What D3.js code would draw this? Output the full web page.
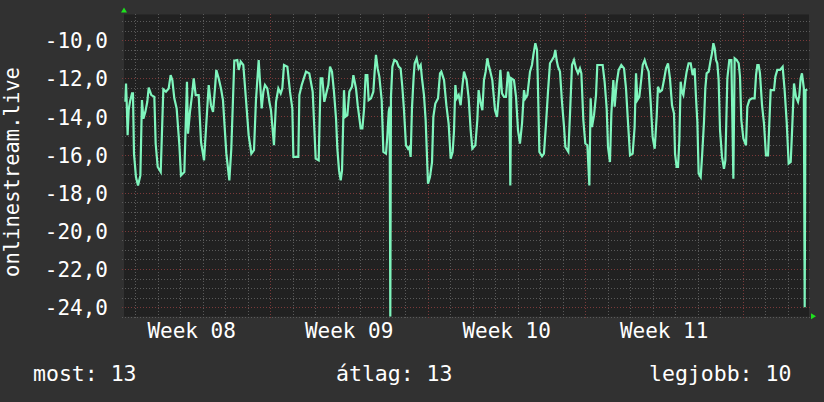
<!DOCTYPE html>
<html><head><meta charset="utf-8">
<script src="https://cdn.jsdelivr.net/npm/d3@7"></script>
<style>html,body{margin:0;padding:0;background:#313131;}svg{display:block;}</style>
</head><body>
<script>
// ---- data (hours since 2024-02-19 00:00 UTC, value) ----
const hours = [
13.3,14.0,14.7,15.7,16.8,18.2,20.4,21.4,22.5,24.6,26.8,29.3,31.0,32.5,34.6,36.7,38.2,41.0,44.2,45.6,47.8,51.0,
53.8,56.6,59.5,61.6,63.4,65.5,68.0,70.9,72.6,76.2,79.0,80.1,82.2,84.4,86.2,88.3,91.5,94.0,97.2,
102.2,104.6,106.8,108.9,110.3,112.8,115.3,117.4,121.0,124.2,126.3,129.5,132.7,134.2,136.3,139.1,142.0,144.8,147.7,150.5,152.6,155.5,
158.7,160.5,162.2,164.7,166.9,168.6,171.8,174.0,176.5,179.0,180.7,182.5,186.1,188.9,191.4,192.5,197.8,198.9,201.4,206.0,209.5,213.1,216.3,219.5,
221.6,223.4,225.5,228.0,229.8,231.6,233.7,235.8,238.0,239.4,241.2,243.0,244.4,246.5,247.9,250.1,252.2,255.0,256.5,259.3,261.1,264.3,266.1,267.8,
269.6,271.4,272.8,275.3,277.8,279.2,280.6,282.4,284.2,286.7,288.5,291.3,292.7,294.2,295.2,295.9,296.6,298.1,300.2,302.7,304.8,
306.9,308.7,310.5,312.6,314.8,316.2,317.6,319.0,320.8,321.9,324.0,326.1,328.3,329.7,331.8,333.6,336.1,338.2,340.4,341.8,343.9,346.8,348.9,350.3,
353.2,355.7,358.1,360.3,362.4,363.8,365.3,366.7,368.8,370.9,372.7,374.5,377.3,379.5,381.6,383.4,386.6,388.7,390.1,392.3,394.1,395.8,397.6,399.4,
400.8,402.2,404.7,407.6,409.7,411.5,413.3,415.0,417.2,419.3,421.4,422.9,423.9,425.0,427.8,430.0,432.1,434.2,436.4,438.5,439.9,442.1,444.9,447.0,448.5,450.6,452.4,
453.1,454.9,457.7,459.8,462.0,464.1,466.2,468.4,470.5,471.9,473.3,474.8,476.9,479.0,481.2,482.6,485.8,487.6,489.7,491.8,494.0,496.1,498.2,499.7,
501.8,503.9,506.1,508.2,509.6,511.0,513.2,515.3,516.7,519.6,522.4,524.5,526.7,528.1,530.2,531.7,533.8,535.2,537.3,539.5,542.3,545.2,547.3,549.4,
551.6,554.4,556.5,558.0,559.4,561.5,563.7,565.1,567.2,569.3,571.5,573.6,575.7,577.9,580.0,581.4,583.6,585.7,587.8,590.0,592.1,594.2,596.4,598.5,
599.6,601.3,602.8,604.2,605.6,607.0,608.5,610.6,612.0,614.1,616.3,618.4,620.5,622.0,623.4,624.8,627.0,628.4,630.5,631.9,633.3,635.5,637.6,639.0,
640.5,641.9,643.3,644.7,646.1,647.6,649.7,651.8,653.3,655.4,657.5,659.7,661.8,663.2,665.3,667.5,668.9,670.3,672.5,675.3,676.7,678.9,681.7,684.5,
686.0,687.4,688.8,690.2,692.4,694.5,696.6,698.8,701.6,705.2,706.6,708.7,711.6,714.4,716.5,718.7,720.8,723.0,724.4,726.5,728.6,730.8,732.2,733.6,
735.0,737.0,737.9,738.8,740.7
];
const values = [
-13.23,-12.27,-13.23,-14.98,-13.67,-13.23,-12.79,-12.79,-15.95,-17.18,-17.62,-17.09,-13.14,-14.11,-13.76,-13.23,-12.48,-12.88,-12.97,-15.42,-16.65,-16.91,
-12.58,-12.70,-12.53,-11.83,-12.09,-13.05,-13.58,-15.51,-17.09,-16.91,-12.18,-14.90,-13.76,-12.88,-12.00,-12.88,-12.88,-15.34,-16.30,
-12.35,-13.41,-13.76,-12.53,-11.56,-12.00,-12.53,-13.14,-15.95,-17.35,-15.69,-11.07,-11.04,-11.56,-11.12,-11.30,-13.14,-14.98,-15.95,-15.77,-13.14,-11.04,
-13.58,-12.70,-12.35,-12.53,-13.23,-13.67,-15.51,-13.23,-12.53,-12.79,-12.53,-11.30,-11.39,-12.70,-13.58,-16.12,-16.12,-12.88,-12.35,-11.65,-11.74,-12.70,-16.21,-16.30,
-12.00,-12.00,-13.23,-12.70,-12.35,-11.39,-11.65,-12.70,-14.11,-15.69,-16.83,-17.35,-16.83,-12.62,-14.02,-13.93,-12.70,-12.44,-11.83,-12.53,-13.41,-14.63,-14.63,-13.67,
-11.83,-11.83,-13.14,-13.05,-12.70,-11.65,-10.77,-11.48,-11.91,-13.14,-15.86,-15.95,-15.07,-13.76,-13.49,-24.50,-12.97,-11.39,-11.04,-11.12,-11.39,
-11.48,-12.44,-13.67,-15.51,-15.69,-15.60,-16.12,-13.58,-11.91,-11.21,-10.95,-11.48,-11.30,-12.00,-12.88,-14.19,-17.53,-17.18,-16.39,-14.02,-13.32,-13.05,-11.74,-11.65,
-12.09,-13.41,-14.37,-16.21,-15.86,-14.81,-12.35,-13.05,-12.88,-13.41,-12.44,-11.65,-12.09,-13.05,-14.72,-15.69,-15.51,-14.19,-12.62,-13.32,-13.67,-12.09,-11.65,-10.95,
-11.30,-11.56,-12.09,-13.67,-14.02,-12.97,-11.56,-12.79,-12.97,-12.97,-11.65,-12.00,-17.62,-12.00,-12.09,-12.97,-14.72,-15.42,-14.37,-12.62,-13.05,-12.88,-11.65,-11.30,-10.77,-10.16,-10.51,
-11.83,-15.86,-16.09,-15.95,-14.37,-12.70,-11.21,-11.04,-10.86,-10.51,-11.04,-11.39,-11.65,-13.23,-14.55,-15.60,-15.86,-13.84,-11.30,-11.04,-11.48,-11.74,-11.48,-11.74,
-14.19,-15.42,-15.51,-17.62,-13.05,-14.55,-13.93,-12.88,-11.30,-11.30,-11.30,-12.18,-13.58,-15.60,-16.39,-13.84,-12.09,-13.49,-12.27,-11.56,-11.30,-11.48,-12.53,-14.28,
-16.04,-15.95,-14.55,-11.74,-13.14,-12.97,-12.00,-11.30,-11.04,-11.39,-11.65,-13.23,-15.07,-15.69,-14.02,-12.44,-12.70,-12.62,-12.09,-11.48,-11.21,-12.00,-13.41,-13.84,
-15.95,-16.65,-16.65,-15.25,-12.18,-12.70,-12.88,-12.09,-11.65,-11.21,-11.21,-11.83,-11.48,-13.05,-14.28,-17.00,-17.18,-16.12,-14.28,-12.53,-11.74,-11.65,-11.04,-10.69,
-10.16,-10.42,-11.04,-11.21,-12.09,-14.72,-16.12,-16.74,-16.30,-12.00,-11.04,-11.04,-17.26,-10.95,-11.04,-11.21,-11.91,-14.19,-15.16,-15.51,-13.49,-13.14,-13.05,-13.05,
-11.83,-11.30,-11.30,-11.74,-13.41,-14.37,-16.04,-16.04,-12.62,-12.62,-11.91,-11.56,-11.56,-11.39,-12.62,-14.28,-16.47,-16.39,-14.81,-12.27,-12.97,-13.23,-12.88,-12.00,
-11.74,-12.53,-24.00,-12.62,-12.58
];
const yTicks = [-24, -22, -20, -18, -16, -14, -12, -10];
const yTitle = "onlinestream.live";
const weekPrefix = "Week ";
const legendLabels = ["most", "átlag", "legjobb"];

// ---- layout ----
const W = 824, H = 402;
const L = 124, R = 809, T = 13.5, B = 316.7;
const baseMs = Date.UTC(2024, 1, 19);
const HOUR = 3600000;
const t0 = new Date(baseMs + 11.84 * HOUR), t1 = new Date(baseMs + 742.5 * HOUR);
const data = hours.map((h, i) => ({ t: new Date(baseMs + h * HOUR), v: values[i] }));

const svg = d3.select("body").append("svg").attr("width", W).attr("height", H);
svg.append("rect").attr("width", W).attr("height", H).attr("fill", "#313131");

const x = d3.scaleUtc().domain([t0, t1]).range([L, R]);
const y = d3.scaleLinear().domain([-24.5, -8.6]).range([B, T]);

svg.append("rect").attr("x", L).attr("y", T + 1).attr("width", R - L).attr("height", B - T - 1).attr("fill", "#212121");

const grid = svg.append("g").attr("shape-rendering", "crispEdges");
const FONT = "DejaVu Sans Mono, monospace";
const minorCol = "#5a5a5a", majorCol = "#7a3a3a";

// horizontal minor
const yMinor = d3.range(-24.5, -8.6, 0.5).filter(v => !yTicks.includes(v));
grid.selectAll("line.hm").data(yMinor).join("line")
  .attr("x1", L - 2).attr("x2", R + 2)
  .attr("y1", d => Math.round(y(d)) + 0.5).attr("y2", d => Math.round(y(d)) + 0.5)
  .attr("stroke", minorCol).attr("stroke-dasharray", "1,2");
// vertical minor (days)
const mondays = d3.utcMonday.range(t0, t1);
const days = d3.utcDay.range(t0, t1).filter(d => d.getUTCDay() !== 1);
grid.selectAll("line.vm").data(days).join("line")
  .attr("x1", d => Math.round(x(d)) + 0.5).attr("x2", d => Math.round(x(d)) + 0.5)
  .attr("y1", T).attr("y2", B + 2)
  .attr("stroke", minorCol).attr("stroke-dasharray", "1,2");
// major
grid.selectAll("line.hM").data(yTicks).join("line")
  .attr("x1", L - 2).attr("x2", R + 2)
  .attr("y1", d => Math.round(y(d)) + 0.5).attr("y2", d => Math.round(y(d)) + 0.5)
  .attr("stroke", majorCol).attr("stroke-dasharray", "1,2");
grid.selectAll("line.vM").data(mondays).join("line")
  .attr("x1", d => Math.round(x(d)) + 0.5).attr("x2", d => Math.round(x(d)) + 0.5)
  .attr("y1", T).attr("y2", B + 2)
  .attr("stroke", majorCol).attr("stroke-dasharray", "1,2");

// y tick labels via axis
const fmt = v => d3.format(".1f")(v).replace(".", ",").replace("−", "-");
const yAxis = svg.append("g").attr("transform", `translate(${L - 16},0)`)
  .call(d3.axisLeft(y).tickValues(yTicks).tickFormat(fmt).tickSize(0).tickPadding(0));
yAxis.select(".domain").remove();
yAxis.selectAll("text").attr("fill", "#ffffff").attr("font-family", FONT).attr("font-size", 21).attr("dy", "0.36em");

// x week labels
const weekCenters = mondays.map(m => ({ m, c: new Date(+m - 3.5 * 86400000) }))
  .concat([{ m: new Date(+mondays[mondays.length - 1] + 7 * 86400000), c: new Date(+mondays[mondays.length - 1] + 3.5 * 86400000) }])
  .filter(d => d.c >= t0 && d.c <= t1);
svg.selectAll("text.wk").data(weekCenters).join("text")
  .attr("x", d => x(d.c)).attr("y", 338)
  .attr("text-anchor", "middle").attr("fill", "#ffffff")
  .attr("font-family", FONT).attr("font-size", 21)
  .text(d => weekPrefix + d3.utcFormat("%V")(d.c));

// y title
svg.append("text").attr("transform", `translate(19,172) rotate(-90)`)
  .attr("text-anchor", "middle").attr("fill", "#ffffff")
  .attr("font-family", FONT).attr("font-size", 20.5).text(yTitle);

// line
svg.append("clipPath").attr("id", "clip").append("rect").attr("x", L).attr("y", T).attr("width", R - L + 1).attr("height", B - T);
svg.append("path").datum(data).attr("clip-path", "url(#clip)")
  .attr("fill", "none").attr("stroke", "#7ff5bd").attr("stroke-width", 2.2).attr("stroke-linejoin", "miter")
  .attr("d", d3.line().x(d => x(d.t)).y(d => y(d.v)));

// arrows
svg.append("path").attr("d", `M${L - 3},${T - 1}L${L + 3},${T - 1}L${L},${T - 6}Z`).attr("fill", "#1ee11e");
svg.append("path").attr("d", `M${R + 2},${B - 3.5}L${R + 2},${B + 2.5}L${R + 7},${B - 0.5}Z`).attr("fill", "#1ee11e");

// legend
const last = values[values.length - 1];
const legendVals = [Math.round(-last), Math.round(-d3.mean(values)), Math.round(-d3.max(values))];
const legendX = [33, 336, 649];
svg.selectAll("text.lg").data(legendLabels).join("text")
  .attr("x", (d, i) => legendX[i]).attr("y", 381)
  .attr("fill", "#ffffff").attr("font-family", FONT).attr("font-size", 21.5)
  .text((d, i) => `${d}: ${legendVals[i]}`);
</script>
</body></html>
